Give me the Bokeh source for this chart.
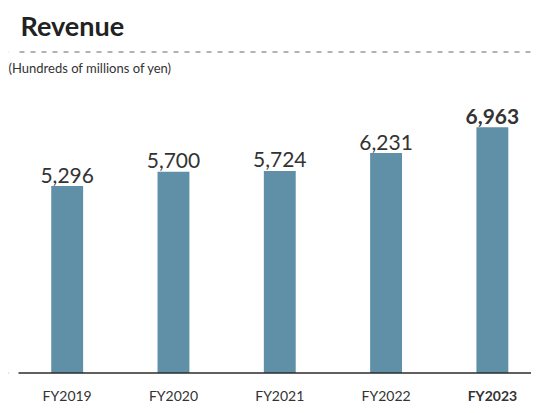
from bokeh.plotting import figure
from bokeh.models import ColumnDataSource, Range1d, Label, BoxAnnotation, Span
from bokeh.core.properties import value
from bokeh.embed import file_html
from bokeh.resources import INLINE

# ---- data ----
categories = ["FY2019", "FY2020", "FY2021", "FY2022", "FY2023"]
revenue = [5296, 5700, 5724, 6231, 6963]
highlight = "FY2023"
title_text = "Revenue"
unit_text = "(Hundreds of millions of yen)"

FONT = "Lato"
TEXT = "#333333"
BAR = "#5f90a8"

xs = list(range(len(categories)))
styles = ["bold" if c == highlight else "normal" for c in categories]
src = ColumnDataSource(dict(
    x=xs, y=revenue, cat=categories,
    lab=[f"{v:,}" for v in revenue], style=styles,
))

W, H = 531, 405
p = figure(width=W, height=H, output_backend="svg", toolbar_location=None,
           x_range=Range1d(-0.552, 4.368), y_range=Range1d(-921, 10553),
           min_border_left=8, min_border_right=0, min_border_top=0, min_border_bottom=0)
p.axis.visible = False
p.grid.visible = False
p.outline_line_color = None
p.background_fill_color = "white"
p.border_fill_color = "white"

p.vbar(x="x", top="y", bottom=0, width=0.30, source=src,
       fill_color=BAR, line_color=None)

# baseline axis line
p.add_layout(Span(location=0, dimension="width", line_color="#2b2b2b", line_width=1.4))

# value labels
p.text(x="x", y="y", text="lab", source=src, text_font=value(FONT),
       text_font_size="21px", text_font_style="style", text_color=TEXT,
       text_align="center", text_baseline="alphabetic", y_offset=-11)

# category labels
p.text(x="x", y=0, text="cat", source=src, text_font=value(FONT),
       text_font_size="14px", text_font_style="style", text_color=TEXT,
       text_align="center", text_baseline="top", y_offset=14)

# title, dashed rule, unit text
p.add_layout(Label(x=12, y=H - 25, x_units="screen", y_units="screen", text=title_text,
                   text_font=FONT, text_font_size="27px", text_font_style="bold",
                   text_color="#222222", text_baseline="middle"))
p.add_layout(Span(location=H - 51.5, location_units="screen", dimension="width",
                  line_color="#999999", line_width=1.3, line_dash="5 6"))
# keep both rules' left ends 10px in from the frame edge
for top, bottom in ((H - 46, H - 57), (H - 366, H - 379)):
    p.add_layout(BoxAnnotation(left=0, right=10, left_units="screen", right_units="screen",
                               top=top, bottom=bottom, top_units="screen", bottom_units="screen",
                               fill_color="white", fill_alpha=1, line_color=None))
p.add_layout(Label(x=0, y=H - 67.5, x_units="screen", y_units="screen", text=unit_text,
                   text_font=FONT, text_font_size="13px", text_color=TEXT,
                   text_baseline="middle"))

open("out.html", "w").write(file_html(p, INLINE))
